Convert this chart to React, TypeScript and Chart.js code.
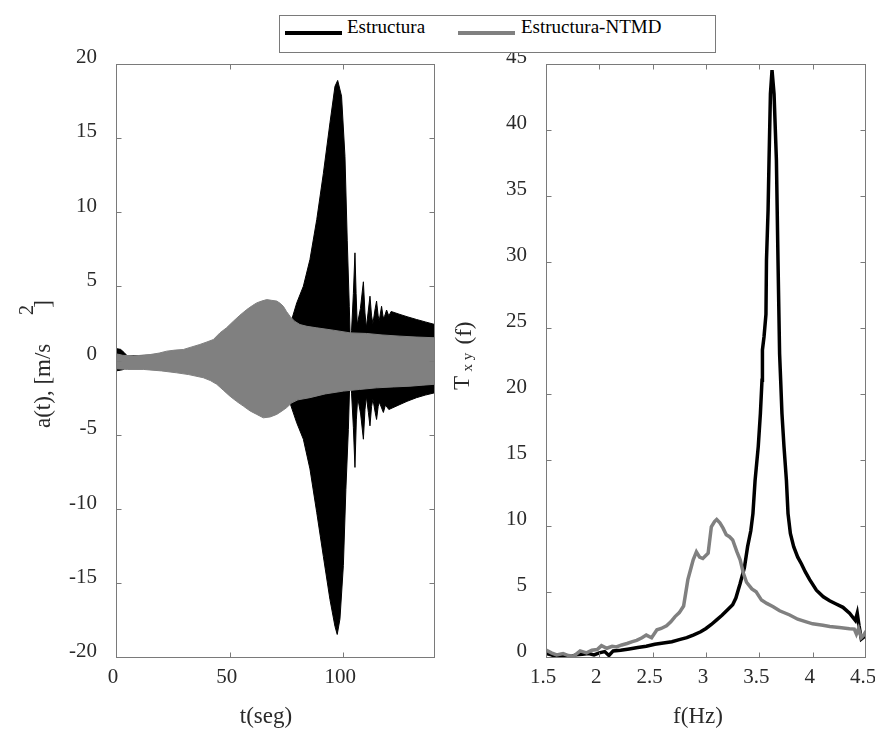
import React, { useEffect, useRef } from "react";
import { Chart, registerables } from "chart.js";

Chart.register(...registerables);

const FONT = "'Liberation Serif', 'Times New Roman', Times, serif";
Chart.defaults.font.family = FONT;
Chart.defaults.font.size = 21;

const BLACK = "#000000";
const GRAY = "#808080";
const FRAME = "#7a7a7a";
const TICKTEXT = "#2a2a2a";

// ---------- legend ----------
const seriesNames = ["Estructura", "Estructura-NTMD"];

// ---------- left panel: acceleration envelopes (t in s, a in m/s^2) ----------
const tGrayUpper = [0, 3, 7.6, 11, 15, 19, 22.3, 26, 29.6, 33, 36.9, 40, 42.8, 45.7, 48.6, 51.6, 54.5, 57.5, 60, 61.9, 64, 66.3, 68.5, 70.7, 72.2, 73.6, 75, 76.5, 78.5, 80.9, 84, 88.3, 95.6, 103, 110.2, 117, 124.9, 132, 140.3];
const aGrayUpper = [0.45, 0.35, 0.3, 0.35, 0.4, 0.5, 0.63, 0.7, 0.74, 0.9, 1.08, 1.25, 1.41, 1.86, 2.2, 2.64, 3.05, 3.43, 3.7, 3.88, 4.0, 4.1, 4.05, 4.0, 3.85, 3.65, 3.3, 2.98, 2.65, 2.42, 2.3, 2.2, 2.04, 1.86, 1.82, 1.72, 1.64, 1.58, 1.53];

const tGrayLower = [0, 5, 12, 20, 26.7, 32, 38.4, 41.5, 44.3, 47.2, 50.1, 53, 56, 59, 61.9, 64.8, 67.8, 70.7, 73, 75, 77.3, 80, 85.3, 92, 100, 107, 114.6, 122, 129.3, 135, 140.3];
const aGrayLower = [-0.55, -0.6, -0.6, -0.7, -0.83, -0.95, -1.16, -1.35, -1.6, -2.0, -2.4, -2.75, -3.07, -3.4, -3.63, -3.86, -3.8, -3.63, -3.4, -3.18, -2.85, -2.65, -2.5, -2.25, -2.06, -1.95, -1.84, -1.78, -1.73, -1.66, -1.6];

const tBlackUpper = [0, 2, 3.5, 5, 40, 70, 76.5, 77.3, 79.5, 82.4, 85.3, 88.3, 91.2, 94.1, 96.3, 97.5, 99.2, 100.7, 101.7, 102.6, 103.1, 103.6, 104.4, 105.1, 105.6, 106.1, 107.5, 108.8, 109.5, 110.1, 111.0, 111.7, 112.4, 113.0, 114.0, 114.6, 115.3, 115.8, 116.8, 117.5, 118.2, 119, 120, 121, 124.9, 128, 132.2, 136, 140.3];
const aBlackUpper = [0.8, 0.75, 0.55, 0.3, 0.5, 1.5, 2.0, 2.76, 3.88, 5.0, 6.8, 9.5, 12.6, 16.0, 18.46, 18.86, 17.8, 13.75, 8.1, 3.65, 1.0, 2.0, 4.5, 7.25, 4.5, 2.4, 3.5, 5.3, 3.2, 2.2, 3.4, 4.33, 3.0, 2.5, 3.5, 4.0, 3.0, 2.7, 3.65, 2.9, 3.0, 3.4, 3.0, 3.3, 3.1, 2.95, 2.76, 2.6, 2.42];

const tBlackLower = [0, 2, 3.5, 5, 40, 70, 75.5, 76.5, 79.5, 82.4, 85.3, 88.3, 91.2, 94.1, 96.3, 97.3, 98.5, 100, 101.1, 102.2, 102.9, 103.6, 104.4, 105.1, 105.7, 106.3, 107.6, 108.8, 109.5, 110.1, 111.0, 111.7, 112.4, 113, 114, 114.6, 115.3, 115.8, 117.6, 118.5, 120, 124.9, 128, 132.2, 136, 140.3];
const aBlackLower = [-0.7, -0.65, -0.6, -0.3, -0.5, -1.5, -2.0, -2.85, -4.2, -5.3, -7.3, -10.25, -13.2, -16.1, -17.9, -18.45, -17.4, -13.8, -8.7, -4.64, -1.0, -2.2, -4.5, -7.2, -4.0, -2.5, -3.6, -5.3, -3.3, -2.4, -3.5, -4.4, -3.1, -2.6, -3.5, -3.97, -3.1, -2.8, -3.5, -3.0, -3.3, -2.96, -2.75, -2.5, -2.33, -2.17];

// ---------- right panel: transfer function ----------
const fEst = [1.5, 1.55, 1.6, 1.66, 1.72, 1.78, 1.84, 1.9, 1.95, 2.0, 2.05, 2.09, 2.13, 2.2, 2.28, 2.36, 2.44, 2.52, 2.6, 2.68, 2.75, 2.82, 2.88, 2.95, 3.0, 3.05, 3.1, 3.15, 3.2, 3.25, 3.28, 3.32, 3.36, 3.39, 3.42, 3.44, 3.46, 3.49, 3.51, 3.525, 3.529, 3.544, 3.562, 3.567, 3.582, 3.591, 3.604, 3.619, 3.638, 3.66, 3.675, 3.69, 3.7, 3.712, 3.731, 3.754, 3.769, 3.791, 3.822, 3.86, 3.894, 3.93, 3.972, 4.035, 4.1, 4.159, 4.22, 4.284, 4.346, 4.4, 4.418, 4.435, 4.456, 4.487, 4.5];
const tEst = [0.3, 0.2, 0.05, 0.1, 0.05, 0.2, 0.25, 0.3, 0.2, 0.35, 0.45, 0.15, 0.5, 0.55, 0.65, 0.75, 0.85, 1.0, 1.1, 1.2, 1.35, 1.5, 1.7, 1.95, 2.2, 2.5, 2.85, 3.2, 3.6, 4.0, 4.5, 5.6, 6.8, 8.4, 9.6, 10.9, 13.4, 16.0, 18.5, 21.0, 23.3, 24.3, 26.0, 30.1, 33.9, 37.7, 42.7, 44.5, 42.7, 37.7, 30.1, 23.0, 21.0, 18.5, 16.0, 13.4, 10.9, 9.4, 8.4, 7.6, 7.1, 6.5, 5.9, 5.1, 4.6, 4.3, 4.05, 3.8, 3.35, 2.8, 3.35, 2.4, 1.4, 1.6, 1.7];

const fNtmd = [1.5, 1.55, 1.6, 1.66, 1.71, 1.76, 1.82, 1.88, 1.93, 1.98, 2.02, 2.07, 2.12, 2.16, 2.21, 2.26, 2.31, 2.35, 2.4, 2.44, 2.49, 2.54, 2.58, 2.63, 2.67, 2.71, 2.75, 2.79, 2.83, 2.86, 2.88, 2.91, 2.94, 2.97, 3.02, 3.05, 3.08, 3.1, 3.13, 3.16, 3.19, 3.22, 3.25, 3.29, 3.32, 3.35, 3.38, 3.43, 3.47, 3.52, 3.57, 3.63, 3.69, 3.785, 3.86, 3.94, 4.0, 4.096, 4.16, 4.25, 4.346, 4.39, 4.41, 4.43, 4.456, 4.48, 4.5];
const tNtmd = [0.57, 0.35, 0.19, 0.3, 0.15, 0.1, 0.5, 0.35, 0.55, 0.6, 0.9, 0.7, 0.85, 0.8, 0.95, 1.06, 1.2, 1.3, 1.5, 1.7, 1.5, 2.1, 2.2, 2.4, 2.7, 3.1, 3.4, 3.9, 5.9, 6.8, 7.4, 8.0, 7.6, 7.5, 7.9, 9.9, 10.3, 10.45, 10.2, 9.8, 9.3, 9.15, 8.9, 8.0, 7.4, 6.4, 5.7, 5.2, 4.98, 4.35, 4.1, 3.85, 3.54, 3.22, 2.9, 2.7, 2.55, 2.45, 2.35, 2.27, 2.17, 2.15, 1.77, 2.2, 1.5, 1.7, 2.0];

const leftXTicks = { min: 0, max: 140.3, step: 50 };
const leftYTicks = { min: -20, max: 20, step: 5 };
const rightXTicks = { min: 1.5, max: 4.5, step: 0.5 };
const rightYTicks = { min: 0, max: 45, step: 5 };

const pts = (xs: number[], ys: number[]) => xs.map((x, i) => ({ x, y: ys[i] }));

const boxPlugin = {
  id: "boxFrame",
  afterDatasetsDraw(chart: any) {
    const { ctx, chartArea: a, scales } = chart;
    const L = Math.round(a.left) + 0.5;
    const R = Math.round(a.right) - 0.5;
    const T = Math.round(a.top) + 0.5;
    const B = Math.round(a.bottom) - 0.5;
    ctx.save();
    ctx.strokeStyle = FRAME;
    ctx.lineWidth = 1;
    ctx.strokeRect(L, T, R - L, B - T);
    ctx.beginPath();
    scales.x.ticks.forEach((t: any) => {
      const px = Math.round(scales.x.getPixelForValue(t.value)) + 0.5;
      if (px <= L + 1 || px >= R - 1) return;
      ctx.moveTo(px, B);
      ctx.lineTo(px, B - 5);
      ctx.moveTo(px, T);
      ctx.lineTo(px, T + 5);
    });
    scales.y.ticks.forEach((t: any) => {
      const py = Math.round(scales.y.getPixelForValue(t.value)) + 0.5;
      if (py <= T + 1 || py >= B - 1) return;
      ctx.moveTo(L, py);
      ctx.lineTo(L + 5, py);
      ctx.moveTo(R, py);
      ctx.lineTo(R - 5, py);
    });
    ctx.stroke();
    ctx.restore();
  },
};

function rotText(ctx: CanvasRenderingContext2D, text: string, x: number, y: number, size: number, align: CanvasTextAlign) {
  ctx.save();
  ctx.translate(x, y);
  ctx.rotate(-Math.PI / 2);
  ctx.font = `${size}px ${FONT}`;
  ctx.textAlign = align;
  ctx.textBaseline = "alphabetic";
  ctx.fillText(text, 0, 0);
  ctx.restore();
}

const leftTitles = {
  id: "leftTitles",
  afterDraw(chart: any) {
    const ctx: CanvasRenderingContext2D = chart.ctx;
    ctx.save();
    ctx.fillStyle = TICKTEXT;
    ctx.font = `23px ${FONT}`;
    ctx.textAlign = "center";
    ctx.textBaseline = "alphabetic";
    ctx.fillText("t(seg)", 266, 723);
    rotText(ctx, "a(t), [m/s", 49.5, 428, 23, "left");
    rotText(ctx, "2", 33, 310, 20, "center");
    rotText(ctx, "]", 49.5, 304, 23, "center");
    ctx.restore();
  },
};

const rightTitles = {
  id: "rightTitles",
  afterDraw(chart: any) {
    const ctx: CanvasRenderingContext2D = chart.ctx;
    ctx.save();
    ctx.fillStyle = TICKTEXT;
    ctx.font = `23px ${FONT}`;
    ctx.textAlign = "center";
    ctx.textBaseline = "alphabetic";
    ctx.fillText("f(Hz)", 698, 723);
    rotText(ctx, "T", 469, 383, 23, "center");
    rotText(ctx, "x y", 472, 362, 15, "center");
    rotText(ctx, "(f)", 471, 333, 23, "center");
    ctx.restore();
  },
};

const fmt = (v: any) => String(Number(v));

function makeScales(xr: any, yr: any, yWidth: number) {
  return {
    x: {
      type: "linear",
      min: xr.min,
      max: xr.max,
      grid: { display: false, drawTicks: false },
      border: { display: false },
      ticks: {
        stepSize: xr.step,
        includeBounds: false,
        autoSkip: false,
        maxRotation: 0,
        padding: 7,
        labelOffset: -3,
        color: TICKTEXT,
        font: { family: FONT, size: 21 },
        callback: fmt,
      },
      afterFit(s: any) {
        s.height = 72.5;
        s.paddingLeft = 0;
        s.paddingRight = 0;
      },
    },
    y: {
      type: "linear",
      min: yr.min,
      max: yr.max,
      grid: { display: false, drawTicks: false },
      border: { display: false },
      ticks: {
        stepSize: yr.step,
        autoSkip: false,
        padding: 19,
        labelOffset: -6,
        color: TICKTEXT,
        font: { family: FONT, size: 21 },
        callback: fmt,
      },
      afterFit(s: any) {
        s.width = yWidth;
        s.paddingTop = 0;
        s.paddingBottom = 0;
      },
    },
  };
}

export default function App() {
  const leftRef = useRef<HTMLCanvasElement | null>(null);
  const rightRef = useRef<HTMLCanvasElement | null>(null);

  useEffect(() => {
    document.body.style.margin = "0";
    const env = (data: any, color: string, fill: any) => ({
      data,
      borderColor: color,
      backgroundColor: color,
      borderWidth: 1,
      pointRadius: 0,
      tension: 0,
      fill,
    });
    const left = new Chart(leftRef.current as HTMLCanvasElement, {
      type: "line",
      data: {
        datasets: [
          { label: seriesNames[1] + " +", ...env(pts(tGrayUpper, aGrayUpper), GRAY, false) },
          { label: seriesNames[1] + " -", ...env(pts(tGrayLower, aGrayLower), GRAY, "-1") },
          { label: seriesNames[0] + " +", ...env(pts(tBlackUpper, aBlackUpper), BLACK, false) },
          { label: seriesNames[0] + " -", ...env(pts(tBlackLower, aBlackLower), BLACK, "-1") },
        ],
      },
      options: {
        animation: false,
        responsive: false,
        devicePixelRatio: 1,
        events: [],
        layout: { padding: { left: 0, top: 63.5, right: 440, bottom: 0 } },
        plugins: { legend: { display: false }, tooltip: { enabled: false } },
        scales: makeScales(leftXTicks, leftYTicks, 116) as any,
      },
      plugins: [boxPlugin, leftTitles],
    } as any);

    const right = new Chart(rightRef.current as HTMLCanvasElement, {
      type: "line",
      data: {
        datasets: [
          {
            label: seriesNames[1],
            data: pts(fNtmd, tNtmd),
            borderColor: GRAY,
            borderWidth: 3.5,
            pointRadius: 0,
            tension: 0,
            fill: false,
          },
          {
            label: seriesNames[0],
            data: pts(fEst, tEst),
            borderColor: BLACK,
            borderWidth: 3.5,
            pointRadius: 0,
            tension: 0,
            fill: false,
          },
        ],
      },
      options: {
        animation: false,
        responsive: false,
        devicePixelRatio: 1,
        events: [],
        layout: { padding: { left: 440, top: 63.5, right: 9, bottom: 0 } },
        plugins: { legend: { display: false }, tooltip: { enabled: false } },
        scales: makeScales(rightXTicks, rightYTicks, 106) as any,
      },
      plugins: [boxPlugin, rightTitles],
    } as any);

    return () => {
      left.destroy();
      right.destroy();
    };
  }, []);

  const legendText: React.CSSProperties = {
    position: "absolute",
    top: 1,
    lineHeight: "19px",
    fontSize: 19,
    color: "#000",
    whiteSpace: "nowrap",
  };

  return (
    <div style={{ position: "relative", width: 875, height: 730, background: "#fff", overflow: "hidden" }}>
      <canvas ref={leftRef} width={875} height={730} style={{ position: "absolute", left: 0, top: 0 }} />
      <canvas ref={rightRef} width={875} height={730} style={{ position: "absolute", left: 0, top: 0 }} />
      <div
        style={{
          position: "absolute",
          left: 279,
          top: 15,
          width: 437,
          height: 38,
          boxSizing: "border-box",
          border: `1px solid ${FRAME}`,
          background: "#fff",
          fontFamily: FONT,
        }}
      >
        <div style={{ position: "absolute", left: 5, top: 15, width: 57, height: 4, background: BLACK }} />
        <span style={{ ...legendText, left: 67 }}>{seriesNames[0]}</span>
        <div style={{ position: "absolute", left: 178, top: 15, width: 57, height: 4, background: GRAY }} />
        <span style={{ ...legendText, left: 241 }}>{seriesNames[1]}</span>
      </div>
    </div>
  );
}
